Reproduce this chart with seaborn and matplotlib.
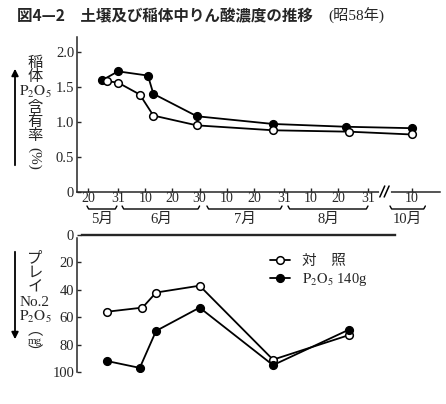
import matplotlib
matplotlib.use('Agg')
import matplotlib.pyplot as plt
import matplotlib.transforms as mtransforms
from matplotlib.lines import Line2D
import seaborn as sns

# day of year for each sampling date; 10/10 sits after the axis break
top_days_ctrl = [147, 151, 159, 164, 180, 208, 236, 283]
top_ctrl = [1.58, 1.56, 1.39, 1.09, 0.95, 0.88, 0.86, 0.82]
top_days_p = [145, 151, 162, 164, 180, 208, 235, 283]
top_p = [1.59, 1.72, 1.66, 1.40, 1.08, 0.97, 0.93, 0.91]

soil_days_ctrl = [147, 160, 165, 181, 208, 236]
soil_ctrl = [56, 53, 42, 37, 91, 73]
soil_days_p = [147, 159, 165, 181, 208, 236]
soil_p = [92, 97, 70, 53, 95, 69]

tick_days = [140, 151, 161, 171, 181, 191, 201, 212, 222, 232, 243, 283]
tick_labels = ['20', '31', '10', '20', '30', '10', '20', '31', '10', '20', '31', '10']

month_names = ['5月', '6月', '7月', '8月', '10月']
month_from = [139.6, 152.5, 183.7, 213.5, 275]
month_to = [150.6, 181, 211.3, 242.9, 288]

series_names = ['対\u3000照', r'$\mathrm{P_2O_5}$ 140g']

W, H = 446, 404
BREAK_AT = 250
BREAK_GAP = 24


def pos(days):
    return [d if d < BREAK_AT else d - BREAK_GAP for d in days]


def day_at(px):
    return 151 + (px - 118) / 2.72


def rect(x0, y0, x1, y1):
    return [x0 / W, 1 - y1 / H, (x1 - x0) / W, (y1 - y0) / H]


def fy(ypx):
    return 1 - ypx / H


sns.set_style('ticks')
plt.rcParams['font.family'] = ['Liberation Serif', 'Noto Sans CJK JP']
plt.rcParams['mathtext.fontset'] = 'stix'
plt.rcParams['axes.linewidth'] = 1.1
plt.rcParams['xtick.direction'] = 'in'
plt.rcParams['ytick.direction'] = 'in'

fig = plt.figure(figsize=(W / 100, H / 100), dpi=100)
ax1 = fig.add_axes(rect(77, 37, 440, 192))
ax2 = fig.add_axes(rect(77, 235, 440, 372))

open_kw = dict(color='black', marker='o', markersize=5.5, markerfacecolor='white',
               markeredgecolor='black', markeredgewidth=1.1, linewidth=1.3)
fill_kw = dict(color='black', marker='o', markersize=5.5, markerfacecolor='black',
               markeredgecolor='black', markeredgewidth=1.1, linewidth=1.3)

# upper panel: plant P2O5 content
sns.lineplot(x=pos(top_days_p), y=top_p, ax=ax1, **fill_kw)
sns.lineplot(x=pos(top_days_ctrl), y=top_ctrl, ax=ax1, **open_kw)

ax1.set_xlim(day_at(77), day_at(440))
ax1.set_ylim(0, 2.21)
ax1.set_yticks([0, 0.5, 1.0, 1.5, 2.0])
ax1.set_yticklabels(['0', '0.5', '1.0', '1.5', '2.0'])
ax1.set_xticks(pos(tick_days))
ax1.set_xticklabels(tick_labels)
ax1.tick_params(axis='y', length=3, width=1, labelsize=10.5, pad=2)
ax1.tick_params(axis='x', length=3, width=1, labelsize=10, pad=0)
for s in ['top', 'right']:
    ax1.spines[s].set_visible(False)
ax1.set_xlabel('')
ax1.set_ylabel('')

# axis break on the time axis
bt = mtransforms.blended_transform_factory(ax1.transData, fig.transFigure)
bx = day_at(385)
fig.add_artist(Line2D([bx - 1.3, bx + 1.3], [fy(192), fy(192)], transform=bt,
                      color='white', linewidth=3))
for dx in (-1.0, 0.6):
    fig.add_artist(Line2D([bx + dx - 0.9, bx + dx + 0.9], [fy(197), fy(186)], transform=bt,
                          color='black', linewidth=1.1))

# month brackets
for name, a, b in zip(month_names, pos(month_from), pos(month_to)):
    fig.add_artist(Line2D([a, a + 0.6, b - 0.6, b], [fy(206), fy(209), fy(209), fy(206)],
                          transform=bt, color='black', linewidth=1.0))
    fig.text((a + b) / 2, fy(219), name, transform=bt, ha='center', va='center', fontsize=10.5)

# lower panel: soil available P
sns.lineplot(x=pos(soil_days_ctrl), y=soil_ctrl, ax=ax2, label=series_names[0], **open_kw)
sns.lineplot(x=pos(soil_days_p), y=soil_p, ax=ax2, label=series_names[1], **fill_kw)

ax2.set_xlim(day_at(77), day_at(440))
ax2.set_ylim(100, 0)
ax2.set_yticks([0, 20, 40, 60, 80, 100])
ax2.set_xticks([])
ax2.tick_params(axis='y', length=3, width=1, labelsize=10.5, pad=2)
ax2.spines['right'].set_visible(False)
ax2.spines['bottom'].set_visible(False)
ax2.spines['top'].set_bounds(day_at(82), day_at(395))
ax2.spines['top'].set_linewidth(1.7)
ax2.spines['left'].set_bounds(2, 100)
ax2.set_xlabel('')
ax2.set_ylabel('')
ax2.legend(loc='upper left', bbox_to_anchor=(270 / W, fy(255)), bbox_transform=fig.transFigure,
           frameon=False, fontsize=10.5, handlelength=1.35, handletextpad=0.85,
           labelspacing=0.2, borderpad=0, borderaxespad=0)

# title
fig.text(17 / W, fy(16), '図4—2\u3000土壌及び稲体中りん酸濃度の推移', family=['Noto Sans CJK JP'],
         fontweight='bold', fontsize=11.2, ha='left', va='center')
fig.text(328 / W, fy(16), '(昭58年)', family=['Liberation Serif', 'Noto Sans CJK JP'],
         fontsize=11, ha='left', va='center')

# stacked vertical axis labels
p2o5 = r'$\mathrm{P_2O_5}$'
top_label = [('稲', 63), ('体', 77), (p2o5, 92), ('含', 108), ('有', 122), ('率', 136)]
for txt, y in top_label:
    fig.text(35 / W, fy(y), txt, ha='center', va='center', fontsize=11)
fig.text(34 / W, fy(158), '(%)', ha='center', va='center', fontsize=11, rotation=-90)

bottom_label = [('プ', 258), ('レ', 273), ('イ', 288), ('No.2', 302), (p2o5, 317),
                ('︵', 331), ('mg', 342), ('︶', 353)]
for txt, y in bottom_label:
    fig.text(35 / W, fy(y), txt, ha='center', va='center', fontsize=11 if txt != 'mg' else 8)

ax1.annotate('', xy=(15, H - 66), xytext=(15, H - 168), xycoords='figure pixels',
             arrowprops=dict(arrowstyle='-|>', lw=1.3, color='black', mutation_scale=10))
ax1.annotate('', xy=(15, H - 342), xytext=(15, H - 249), xycoords='figure pixels',
             arrowprops=dict(arrowstyle='-|>', lw=1.3, color='black', mutation_scale=10))

fig.savefig('out.png', dpi=100)
